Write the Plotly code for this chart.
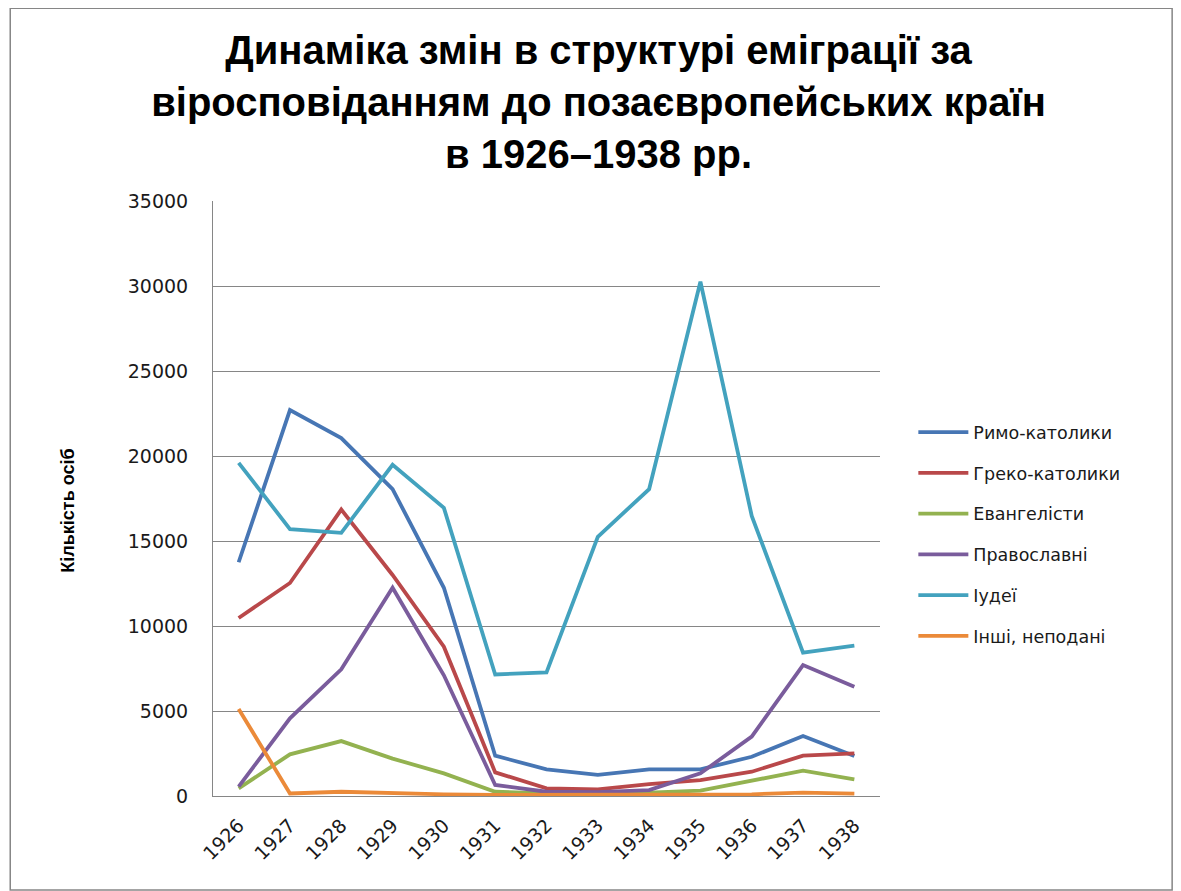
import plotly.graph_objects as go

years = ["1926", "1927", "1928", "1929", "1930", "1931", "1932",
         "1933", "1934", "1935", "1936", "1937", "1938"]

rymo_katolyky = [13750, 22700, 21050, 18050, 12250, 2370, 1570, 1240, 1570, 1570, 2310, 3530, 2350]
hreko_katolyky = [10470, 12530, 16850, 13000, 8780, 1390, 450, 390, 700, 940, 1430, 2370, 2510]
evanhelisty = [450, 2450, 3230, 2200, 1330, 250, 150, 150, 200, 310, 900, 1490, 980]
pravoslavni = [550, 4570, 7450, 12250, 7100, 650, 250, 220, 350, 1330, 3490, 7700, 6430]
iudei = [19600, 15700, 15480, 19480, 16950, 7150, 7270, 15250, 18050, 30250, 16480, 8430, 8850]
inshi = [5120, 150, 250, 150, 100, 60, 60, 50, 50, 50, 100, 200, 140]

series = [
    ("Римо-католики", rymo_katolyky, "#4776B4"),
    ("Греко-католики", hreko_katolyky, "#B9484A"),
    ("Евангелісти", evanhelisty, "#93B250"),
    ("Православні", pravoslavni, "#7A5C9C"),
    ("Іудеї", iudei, "#43A2BE"),
    ("Інші, неподані", inshi, "#EB8A39"),
]

fig = go.Figure()
for name, vals, col in series:
    fig.add_trace(go.Scatter(
        x=years, y=vals, name=name, mode="lines",
        line=dict(color=col, width=3.8),
        legendgroup=name,
    ))

fig.update_layout(
    width=1181, height=891,
    paper_bgcolor="white", plot_bgcolor="white",
    margin=dict(l=205, r=309, t=193, b=103),
    font=dict(family="DejaVu Sans, Verdana", size=17, color="#1a1a1a"),
    title=dict(
        text="<b>Динаміка змін в структурі еміграції за<br>віросповіданням до позаєвропейських країн<br>в 1926–1938 рр.</b>",
        x=0.5, xanchor="center", y=0.937, yanchor="top",
        font=dict(family="Liberation Sans, Arial", size=40, color="black"),
    ),
    legend=dict(
        x=1.05, y=0.44, xanchor="left", yanchor="middle",
        font=dict(size=17.5, color="#1a1a1a"),
        tracegroupgap=15, itemwidth=50,
    ),
    showlegend=True,
)

fig.update_xaxes(
    type="category", range=[-0.5, 12.5], tickangle=-45, showgrid=False,
    showline=True, linecolor="#868686", linewidth=1,
    ticks="", tickfont=dict(size=19), ticklabelstandoff=10,
)
fig.update_yaxes(
    range=[0, 35000], dtick=5000, tickformat="d",
    showgrid=True, gridcolor="#868686", gridwidth=1,
    showline=True, linecolor="#868686", linewidth=1,
    ticks="", tickfont=dict(size=19), zeroline=False,
    ticklabelstandoff=20,
)

fig.add_annotation(
    text="<b>Кількість осіб</b>", xref="paper", yref="paper",
    x=-0.235, y=0.48, textangle=-90, showarrow=False,
    font=dict(family="Liberation Sans, Arial", size=18, color="black"),
)

fig.add_shape(type="rect", xref="paper", yref="paper",
              x0=-0.304, x1=1.438, y0=-0.158, y1=1.324,
              line=dict(color="#868686", width=1.5))

fig.write_html("out.html")
